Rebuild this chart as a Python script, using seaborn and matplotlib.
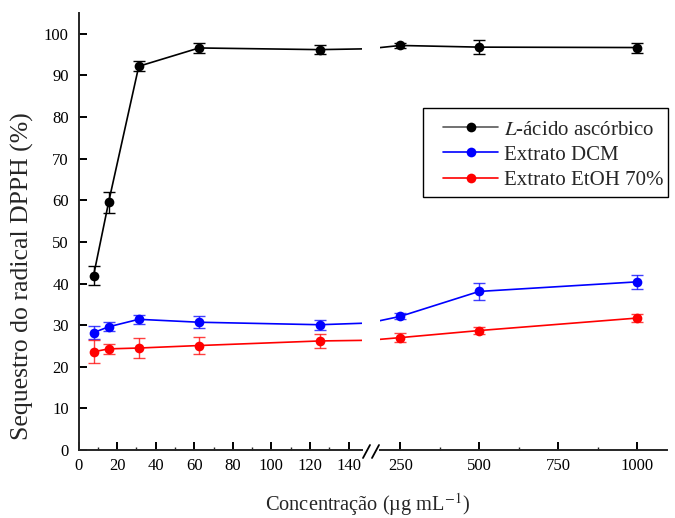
import numpy as np
import pandas as pd
import matplotlib
matplotlib.use("Agg")
import matplotlib.pyplot as plt
from matplotlib.lines import Line2D
from matplotlib.patches import Rectangle
from matplotlib.ticker import FixedLocator
import seaborn as sns

# concentrations (ug/mL)
conc = [7.8, 15.6, 31.25, 62.5, 125, 250, 500, 1000]

ascorbico = [41.9, 59.5, 92.2, 96.6, 96.2, 97.2, 96.8, 96.7]
ascorbico_err = [2.3, 2.5, 1.2, 1.1, 1.0, 0.7, 1.6, 1.2]

dcm = [28.2, 29.6, 31.4, 30.7, 30.1, 32.1, 38.1, 40.4]
dcm_err = [1.5, 1.1, 1.1, 1.4, 1.2, 0.7, 2.1, 1.6]

etoh = [23.6, 24.3, 24.5, 25.1, 26.2, 27.0, 28.7, 31.7]
etoh_err = [2.8, 1.2, 2.4, 2.0, 1.6, 1.0, 0.8, 1.0]

labels = [r"$\it{L}$-ácido ascórbico", "Extrato DCM", "Extrato EtOH 70%"]
cores = ["black", "#0000ff", "#ff0000"]

sns.set_theme(style="ticks")
plt.rcParams["font.family"] = ["Liberation Serif", "DejaVu Serif"]
plt.rcParams["mathtext.fontset"] = "stix"

series = [(ascorbico, ascorbico_err), (dcm, dcm_err), (etoh, etoh_err)]

fig = plt.figure(figsize=(6.75, 5.18), dpi=100)
ax1 = fig.add_axes([78.5 / 675, 68 / 518, (362 - 78.5) / 675, 437 / 518])
ax2 = fig.add_axes([380 / 675, 68 / 518, 287 / 675, 437 / 518], sharey=ax1)

for ax in (ax1, ax2):
    for (vals, err), cor, lab in zip(series, cores, labels):
        df = pd.DataFrame({"conc": conc, "val": vals})
        ax.errorbar(conc, vals, yerr=err, fmt="none", ecolor=cor,
                    elinewidth=1, capsize=4, capthick=1,
                    alpha=1 if cor == "black" else 0.75)
        sns.lineplot(data=df, x="conc", y="val", ax=ax, color=cor, marker="o",
                     markersize=7, markeredgewidth=0, linewidth=1.2,
                     label=lab, legend=False)
    ax.set_xlabel("")
    ax.set_ylabel("")
    ax.spines["top"].set_visible(False)
    ax.spines["right"].set_visible(False)
    ax.spines["bottom"].set_linewidth(1.4)
    ax.tick_params(axis="x", direction="in", length=6, width=1.4, pad=6,
                   labelsize=12, colors="black")
    ax.tick_params(axis="x", which="minor", direction="in", length=2, width=1)

ax1.set_xlim(0, 147)
ax1.set_ylim(0, 105)
ax1.xaxis.set_major_locator(FixedLocator([0, 20, 40, 60, 80, 100, 120, 140]))
ax1.xaxis.set_minor_locator(FixedLocator([10, 30, 50, 70, 90, 110, 130]))
ax1.yaxis.set_major_locator(FixedLocator(list(range(0, 101, 10))))
ax1.spines["left"].set_linewidth(1.4)
ax1.tick_params(axis="y", direction="in", length=6, width=1.4, pad=7,
                labelsize=12, colors="black")

ax2.set_xlim(186, 1095)
ax2.xaxis.set_major_locator(FixedLocator([250, 500, 750, 1000]))
ax2.xaxis.set_minor_locator(FixedLocator([375, 625, 875]))
ax2.spines["left"].set_visible(False)
ax2.tick_params(axis="y", left=False, labelleft=False)

# break marks
for x0 in (363, 372):
    fig.add_artist(Line2D([x0 / 675, (x0 + 7) / 675], [1 - 458 / 518, 1 - 445 / 518],
                          color="black", linewidth=1.3, transform=fig.transFigure))

fig.text(22 / 675, 1 - 276 / 518, "Sequestro do radical DPPH (%)",
         rotation=90, ha="center", va="center", fontsize=18.5)
fig.text(368 / 675, 1 - 505 / 518, "Concentração (µg mL$^{-1}$)",
         ha="center", va="center", fontsize=14.7)

handles = [Line2D([], [], color=c if c != "black" else "0.35", marker="o",
                  markersize=7, markerfacecolor=c, markeredgewidth=0,
                  linewidth=1.2) for c in cores]
fig.legend(handles, labels, loc="upper left",
           bbox_to_anchor=(443 / 675, 1 - 120 / 518), fontsize=15,
           frameon=False, handlelength=2.65, borderaxespad=0,
           labelspacing=0.27, handletextpad=0.3, borderpad=0)
# legend frame
fig.add_artist(Rectangle((423 / 675, 1 - 197 / 518), 245 / 675, 89 / 518,
                         transform=fig.transFigure, fill=False,
                         edgecolor="black", linewidth=1.0))

fig.savefig("out.png", dpi=100)
